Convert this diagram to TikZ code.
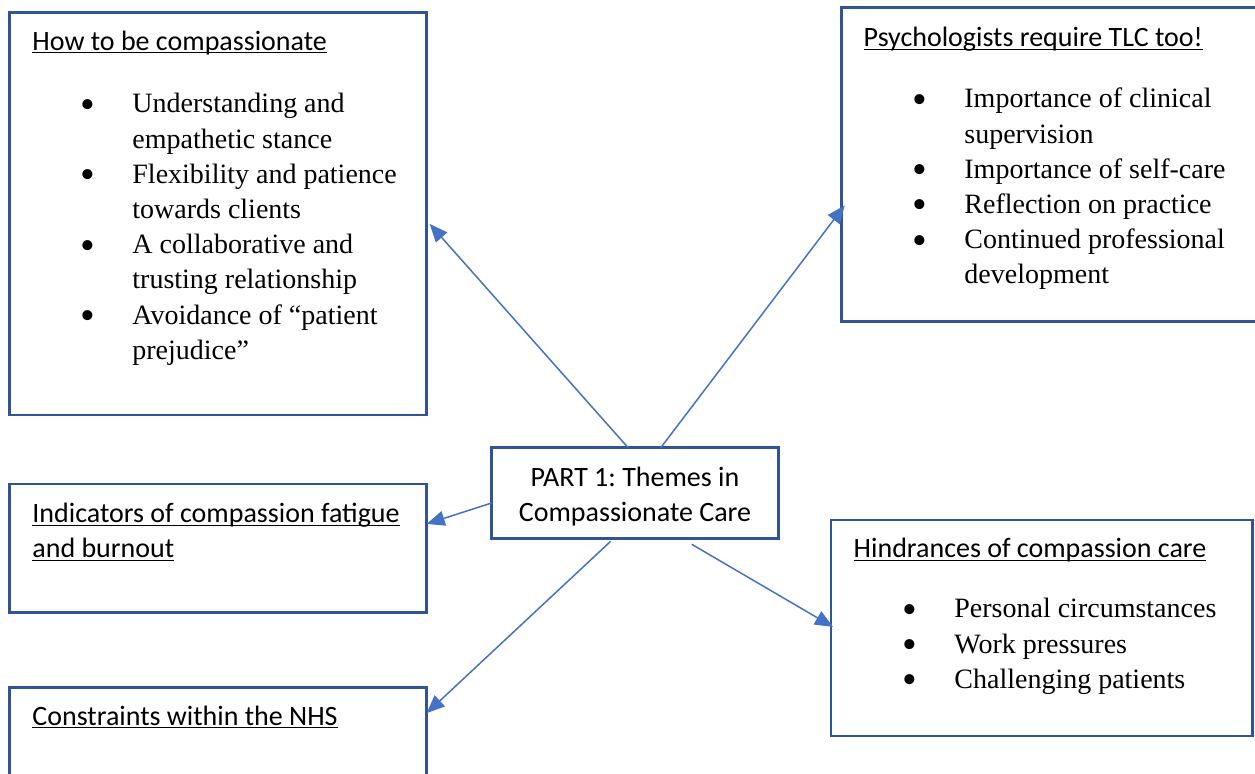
\documentclass[tikz,border=0pt]{standalone}
\usepackage{fontspec}
\setmainfont{Liberation Serif}
\newfontfamily\calibrifont{Carlito}
\usepackage{tikz}
\usetikzlibrary{arrows.meta,calc}
\definecolor{boxblue}{HTML}{2F5597}
\definecolor{arrowblue}{HTML}{4472C4}
\frenchspacing
\newcommand{\headline}[1]{\underline{\smash{#1}}}
\newcommand{\blt}{\makebox[26pt][l]{\smash{\raisebox{-2.7pt}{\scalebox{1.5}{\textbullet}}}}}
\newcommand{\bltgap}{\hspace*{26pt}}

\begin{document}
\begin{tikzpicture}[x=0.5pt,y=-0.5pt,
			themebox/.style={draw=boxblue,line width=1.3pt,anchor=north west,inner sep=0pt,outer sep=0pt},
			heading/.style={font=\calibrifont\fontsize{14}{17.5}\selectfont,inner sep=0pt,align=left,anchor=base west},
			points/.style={font=\fontsize{14}{17.6}\selectfont,inner sep=0pt,align=left,anchor=north west},
			link/.style={draw=arrowblue,line width=0.75pt,-{Triangle[length=9pt,width=7.5pt]}}]
	\useasboundingbox (0,0) rectangle (1255,773);
	\clip (0,0) rectangle (1255,773);
	% centre
	\node[themebox,minimum width=143.3pt,minimum height=45.3pt] (core) at (491.7,447.7) {};
	\node[heading,anchor=center,align=center] (coretext) at ($(core.center)+(0,4)$) {PART 1: Themes in\\Compassionate Care};
	% theme boxes
	\node[themebox,minimum width=208.7pt,minimum height=201.2pt] (howbox) at (9.3,12.7) {};
	\node[themebox,minimum width=210pt,minimum height=157.2pt] (tlcbox) at (841.7,7.3) {};
	\node[themebox,minimum width=208.7pt,minimum height=64.35pt] (fatiguebox) at (9.3,484) {};
	\node[themebox,minimum width=208.7pt,minimum height=60pt] (nhsbox) at (9.3,687.3) {};
	\node[themebox,minimum width=210.65pt,minimum height=108pt] (hinderbox) at (831,520) {};
	% titles
	\node[heading] (howtitle) at (32,50) {\headline{How to be compassionate}};
	\node[heading] (tlctitle) at (863.3,46.7) {\headline{Psychologists require TLC too!}};
	\node[heading,anchor=north west] (fatiguetitle) at (32,521.7) {\headline{Indicators of compassion fatigue}\\\headline{and burnout}};
	\node[heading] (nhstitle) at (32,725) {\headline{Constraints within the NHS}};
	\node[heading] (hindertitle) at (853.3,557.3) {\headline{Hindrances of compassion care}};
	% bullet points
	\node[points] (howlist) at (80,93) {\blt Understanding and\\\bltgap empathetic stance\\
		\blt Flexibility and patience\\\bltgap towards clients\\
		\blt A collaborative and\\\bltgap trusting relationship\\
		\blt Avoidance of ``patient\\\bltgap prejudice''};
	\node[points] (tlclist) at (912,87.7) {\blt Importance of clinical\\\bltgap supervision\\
		\blt Importance of self-care\\
		\blt Reflection on practice\\
		\blt Continued professional\\\bltgap development};
	\node[points] (hinderlist) at (902,598) {\blt Personal circumstances\\
		\blt Work pressures\\
		\blt Challenging patients};
	% arrows
	\draw[link] ($(core.north west)!0.476!(core.north east)$) -- ($(howbox.north east)!0.525!(howbox.south east)+(3,0)$);
	\draw[link] ($(core.north west)!0.59!(core.north east)$) -- ($(tlcbox.north west)!0.63!(tlcbox.south west)+(3,0)$);
	\draw[link] ($(core.north west)!0.61!(core.south west)$) -- ($(fatiguebox.north east)!0.31!(fatiguebox.south east)$);
	\draw[link] ($(core.south west)!0.415!(core.south east)+(0,3)$) -- ($(nhsbox.north east)!0.215!(nhsbox.south east)$);
	\draw[link] ($(core.south west)!0.698!(core.south east)+(0,6)$) -- ($(hinderbox.north west)!0.495!(hinderbox.south west)+(2,0)$);
\end{tikzpicture}
\end{document}
